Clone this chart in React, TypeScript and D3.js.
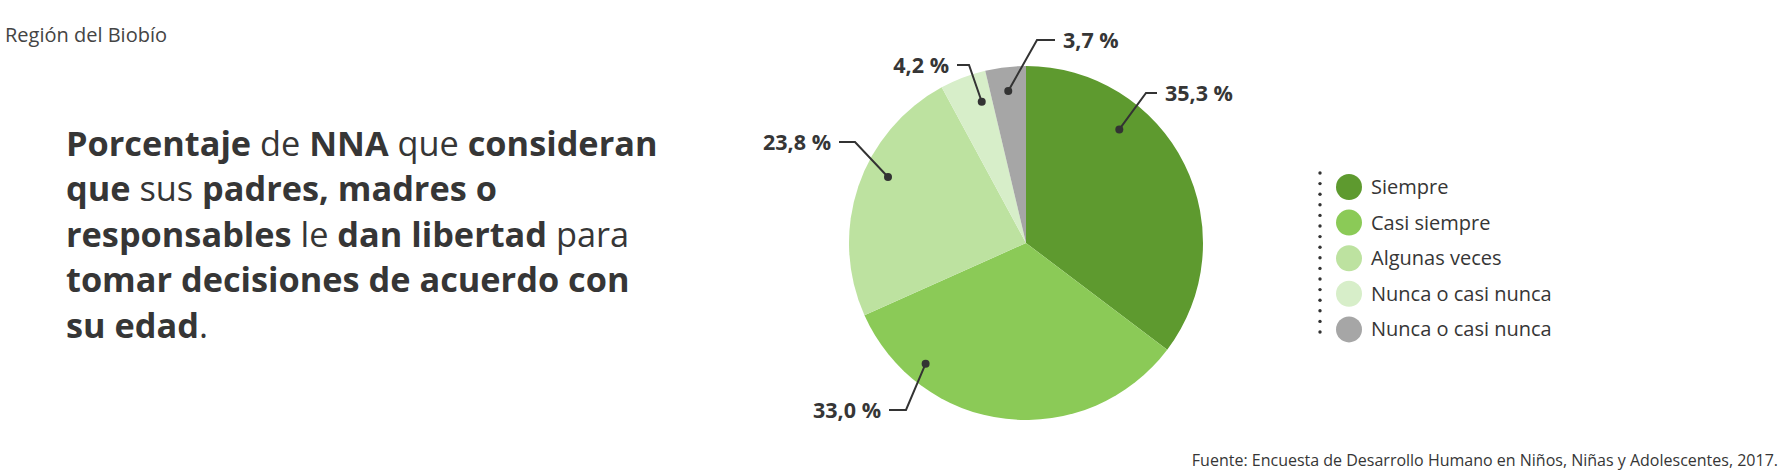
import React from "react";
import * as d3 from "d3";

const categories = ["Siempre", "Casi siempre", "Algunas veces", "Nunca o casi nunca", "Nunca o casi nunca"];
const values = [35.3, 33.0, 23.8, 4.2, 3.7];
const valueLabels = ["35,3 %", "33,0 %", "23,8 %", "4,2 %", "3,7 %"];
const colors = ["#5e9a2f", "#8bca57", "#bde2a0", "#d7eec9", "#a6a6a6"];
const regionTitle = "Región del Biobío";
const sourceText = "Fuente: Encuesta de Desarrollo Humano en Niños, Niñas y Adolescentes, 2017.";
const titleLines: [string, boolean][][] = [
  [["Porcentaje", true], [" de ", false], ["NNA", true], [" que ", false], ["consideran", true]],
  [["que", true], [" sus ", false], ["padres, madres o", true]],
  [["responsables", true], [" le ", false], ["dan libertad", true], [" para", false]],
  [["tomar decisiones de acuerdo con", true]],
  [["su edad", true], [".", false]],
];

const FONT = "'Open Sans', 'Noto Sans', sans-serif";
const TXT = "#363636";

export default function App() {
  const W = 1792, H = 476;
  const cx = 1026, cy = 243, R = 177;
  const pie = d3.pie<number>().sort(null).value((d) => d);
  const arcs = pie(values);
  const arc = d3.arc<d3.PieArcDatum<number>>().innerRadius(0).outerRadius(R);

  // label leader layout: fraction within slice for dot, dot radius, elbow offset (dx,dy), side
  const lay = [
    { f: 0.31, r: 147, ex: 120, ey: -150, side: 1, h: 11 },
    { f: 0.78, r: 157, ex: -120, ey: 167, side: -1, h: 17 },
    { f: 0.58, r: 153, ex: -171, ey: -101, side: -1, h: 16 },
    { f: 0.73, r: 148, ex: -57, ey: -178, side: -1, h: 12 },
    { f: 0.5, r: 153, ex: 11, ey: -203, side: 1, h: 18 },
  ];

  const legendX = 1349, legendY0 = 187, legendStep = 35.6;
  const dotsY = d3.range(173, 336, 10.6);

  return (
    <svg width={W} height={H} style={{ position: "absolute", left: 0, top: 0, background: "#fff" }} fontFamily={FONT}>
      <text x={5} y={42} fontSize={20} fill="#444">{regionTitle}</text>
      {titleLines.map((line, i) => (
        <text key={i} x={66} y={156 + i * 45.4} fontSize={34.3} fill={TXT}>
          {line.map(([t, b], j) => (
            <tspan key={j} fontWeight={b ? 700 : 400} style={{ whiteSpace: "pre" }}>{t}</tspan>
          ))}
        </text>
      ))}
      <g transform={`translate(${cx},${cy})`}>
        {arcs.map((a, i) => (
          <path key={i} d={arc(a) || ""} fill={colors[i]} />
        ))}
        {arcs.map((a, i) => {
          const L = lay[i];
          const ang = a.startAngle + (a.endAngle - a.startAngle) * L.f;
          const dx = Math.sin(ang) * L.r, dy = -Math.cos(ang) * L.r;
          const hx = L.ex + L.side * L.h;
          return (
            <g key={i}>
              <polyline points={`${dx},${dy} ${L.ex},${L.ey} ${hx},${L.ey}`} fill="none" stroke="#333" strokeWidth={2} />
              <circle cx={dx} cy={dy} r={4} fill="#333" />
              <text x={hx + L.side * 8} y={L.ey + 7.5} fontSize={21.5} fontWeight={700} fill={TXT} textAnchor={L.side > 0 ? "start" : "end"}>
                {valueLabels[i]}
              </text>
            </g>
          );
        })}
      </g>
      {dotsY.map((y, i) => (
        <circle key={i} cx={1320} cy={y} r={1.7} fill="#333" />
      ))}
      {categories.map((c, i) => (
        <g key={i}>
          <circle cx={legendX} cy={legendY0 + i * legendStep} r={13} fill={colors[i]} />
          <text x={1371} y={legendY0 + i * legendStep + 7} fontSize={20} fill={TXT}>{c}</text>
        </g>
      ))}
      <text x={1778} y={466} fontSize={16} fill={TXT} textAnchor="end">{sourceText}</text>
    </svg>
  );
}
